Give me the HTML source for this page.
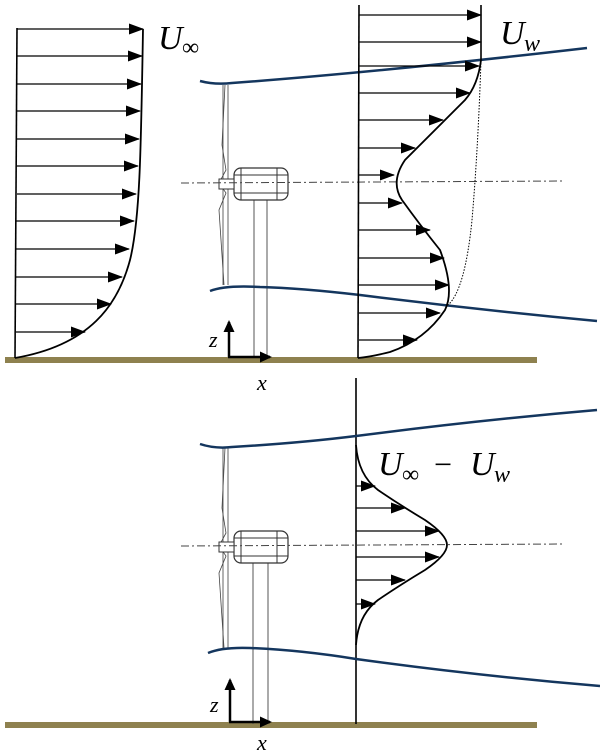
<!DOCTYPE html>
<html><head><meta charset="utf-8"><style>
html,body{margin:0;padding:0;background:#fff;}
svg{display:block;}
text{font-family:"Liberation Serif",serif;font-style:italic;fill:#000;}
</style></head><body>
<svg width="600" height="752" viewBox="0 0 600 752" xmlns="http://www.w3.org/2000/svg">
<defs>
<marker id="a" markerWidth="15" markerHeight="11" refX="14" refY="5.5" orient="auto" markerUnits="userSpaceOnUse">
<path d="M0,0 L15,5.5 L0,11 Z" fill="#000"/></marker>
<marker id="b" markerWidth="12" markerHeight="11" refX="10" refY="5.5" orient="auto" markerUnits="userSpaceOnUse">
<path d="M0,0 L12,5.5 L0,11 Z" fill="#000"/></marker>
<g id="turb">
<line x1="223" y1="0" x2="223" y2="200" stroke="#666" stroke-width="1"/>
<line x1="228" y1="0" x2="228" y2="200" stroke="#666" stroke-width="1"/>
<path d="M225,0 L222,60 L226,85 L219,98 L226,108 L219,125 L224,200" fill="none" stroke="#444" stroke-width="0.8"/>
<rect x="234" y="83" width="54" height="32" rx="7" fill="#fff" stroke="#333" stroke-width="1.2"/>
<line x1="241" y1="83" x2="241" y2="115" stroke="#333"/>
<line x1="277" y1="83" x2="277" y2="115" stroke="#333"/>
<line x1="234" y1="90" x2="288" y2="90" stroke="#333"/>
<line x1="234" y1="108" x2="288" y2="108" stroke="#333"/>
<rect x="219" y="94" width="15" height="10" fill="#fff" stroke="#333"/>
</g>
</defs>

<rect x="5" y="357" width="532" height="6" fill="#8e814f"/>
<rect x="5" y="722" width="532" height="6" fill="#8e814f"/>

<line x1="17" y1="28" x2="15" y2="358" stroke="#000" stroke-width="1.6"/>
<path d="M143,29 C141,150 140,220 130,260 C118,305 90,345 15,358" fill="none" stroke="#000" stroke-width="1.8"/>
<g stroke="#000" stroke-width="1.3" marker-end="url(#a)">
<line x1="17" y1="29" x2="143" y2="29"/>
<line x1="17" y1="56" x2="142" y2="56"/>
<line x1="17" y1="84" x2="141" y2="84"/>
<line x1="17" y1="111" x2="140" y2="111"/>
<line x1="17" y1="139" x2="139" y2="139"/>
<line x1="17" y1="166" x2="138" y2="166"/>
<line x1="17" y1="194" x2="136" y2="194"/>
<line x1="16" y1="221" x2="134" y2="221"/>
<line x1="16" y1="249" x2="129" y2="249"/>
<line x1="16" y1="277" x2="122" y2="277"/>
<line x1="16" y1="304" x2="111" y2="304"/>
<line x1="16" y1="332" x2="85" y2="332"/>
</g>
<text x="158" y="49" font-size="34">U</text><text x="182" y="55" font-size="24" style="font-style:normal">∞</text>

<line x1="254" y1="200" x2="254" y2="358" stroke="#555"/>
<line x1="267" y1="200" x2="267" y2="358" stroke="#555"/>
<use href="#turb" transform="translate(0,85)"/>
<line x1="181" y1="183" x2="563" y2="181" stroke="#444" stroke-width="1" stroke-dasharray="8,3,2,3"/>

<path d="M200,81 Q215,85 232,83 Q380,72 587,48" fill="none" stroke="#14365e" stroke-width="2.5"/>
<path d="M210,291 Q225,285 260,287 Q300,288 360,295 Q480,310 597,321" fill="none" stroke="#14365e" stroke-width="2.5"/>

<line x1="359" y1="5" x2="358" y2="358" stroke="#000" stroke-width="1.6"/>
<line x1="481" y1="5" x2="481" y2="60" stroke="#000" stroke-width="1.6"/>
<path d="M481,60 Q478,150 472,220 Q465,290 448,305" fill="none" stroke="#000" stroke-width="1" stroke-dasharray="1.5,1.5"/>
<path d="M481,60 Q478,85 465,100 Q430,135 405,160 Q390,182 402,200 Q420,225 440,250 Q455,290 445,310 Q425,340 390,352 Q370,357 358,358" fill="none" stroke="#000" stroke-width="1.8"/>
<g stroke="#000" stroke-width="1.3" marker-end="url(#a)">
<line x1="359" y1="15" x2="481" y2="15"/>
<line x1="359" y1="42" x2="481" y2="42"/>
<line x1="359" y1="66" x2="479" y2="66"/>
<line x1="359" y1="93" x2="470" y2="93"/>
<line x1="359" y1="120" x2="443" y2="120"/>
<line x1="359" y1="148" x2="415" y2="148"/>
<line x1="359" y1="175" x2="394" y2="175"/>
<line x1="359" y1="203" x2="402" y2="203"/>
<line x1="359" y1="230" x2="430" y2="230"/>
<line x1="359" y1="258" x2="444" y2="258"/>
<line x1="359" y1="285" x2="449" y2="285"/>
<line x1="359" y1="313" x2="440" y2="313"/>
<line x1="359" y1="340" x2="417" y2="340"/>
</g>
<text x="500" y="44" font-size="34">U</text><text x="524" y="51" font-size="24">w</text>

<line x1="229" y1="357" x2="229" y2="322" stroke="#000" stroke-width="2.5" marker-end="url(#b)"/>
<line x1="228" y1="357" x2="270" y2="357" stroke="#000" stroke-width="2.5" marker-end="url(#b)"/>
<text x="209" y="347" font-size="22">z</text>
<text x="257" y="390" font-size="22">x</text>

<line x1="356" y1="378" x2="356" y2="724" stroke="#000" stroke-width="1.6"/>
<line x1="253" y1="562" x2="253" y2="724" stroke="#555"/>
<line x1="268" y1="562" x2="268" y2="724" stroke="#555"/>
<use href="#turb" transform="translate(0,448)"/>
<line x1="181" y1="546" x2="563" y2="544" stroke="#444" stroke-width="1" stroke-dasharray="8,3,2,3"/>
<path d="M200,444 Q215,449 232,447 Q300,443 356,436 Q480,420 597,410" fill="none" stroke="#14365e" stroke-width="2.5"/>
<path d="M208,653 Q222,647 250,648 Q300,650 356,659 Q480,676 600,686" fill="none" stroke="#14365e" stroke-width="2.5"/>
<path d="M356,445 Q358,475 378,490 Q400,505 425,520 Q447,535 447,545 Q447,555 425,570 Q400,585 378,600 Q358,615 356,645" fill="none" stroke="#000" stroke-width="1.8"/>
<g stroke="#000" stroke-width="1.3" marker-end="url(#a)">
<line x1="356" y1="486" x2="375" y2="486"/>
<line x1="356" y1="508" x2="405" y2="508"/>
<line x1="356" y1="531" x2="439" y2="531"/>
<line x1="356" y1="557" x2="439" y2="557"/>
<line x1="356" y1="580" x2="405" y2="580"/>
<line x1="356" y1="604" x2="375" y2="604"/>
</g>
<text x="378" y="475" font-size="34">U</text><text x="402" y="482" font-size="24" style="font-style:normal">∞</text>
<text x="434" y="475" font-size="32" style="font-style:normal">−</text>
<text x="470" y="475" font-size="34">U</text><text x="494" y="482" font-size="24">w</text>

<line x1="230" y1="722" x2="230" y2="680" stroke="#000" stroke-width="2.5" marker-end="url(#b)"/>
<line x1="229" y1="722" x2="270" y2="722" stroke="#000" stroke-width="2.5" marker-end="url(#b)"/>
<text x="210" y="712" font-size="22">z</text>
<text x="257" y="750" font-size="22">x</text>
</svg>
</body></html>
